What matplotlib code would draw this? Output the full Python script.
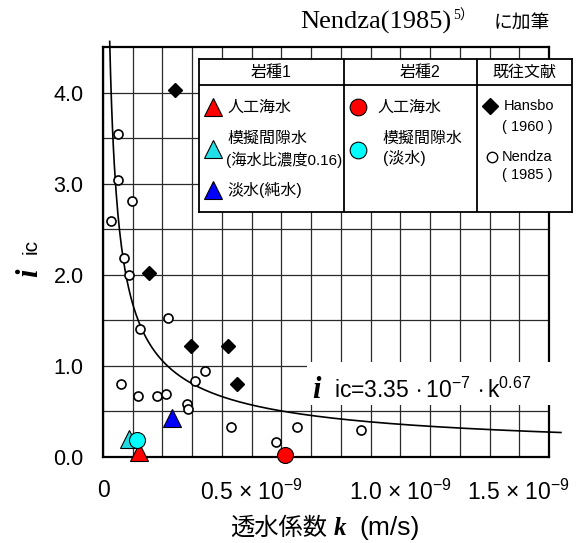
import numpy as np
import matplotlib
import matplotlib.pyplot as plt
from matplotlib.patches import Rectangle
from matplotlib.transforms import ScaledTranslation

matplotlib.use("Agg")

plt.rcParams["font.family"] = ["Liberation Sans", "Noto Sans CJK JP"]
plt.rcParams["mathtext.fontset"] = "custom"
plt.rcParams["mathtext.rm"] = "Liberation Sans"
plt.rcParams["mathtext.it"] = "Liberation Sans:italic"
plt.rcParams["mathtext.bf"] = "Liberation Sans:bold"

W, H = 584, 543

# Nendza (1985) - open circles
nendza_k = [0.027, 0.049, 0.049, 0.098, 0.071, 0.088, 0.217, 0.124, 0.342, 0.310,
            0.059, 0.119, 0.183, 0.212, 0.281, 0.287, 0.429, 0.652, 0.868, 0.581]
nendza_i = [2.59, 3.54, 3.04, 2.81, 2.18, 2.00, 1.53, 1.41, 0.94, 0.83,
            0.80, 0.67, 0.67, 0.69, 0.58, 0.53, 0.33, 0.33, 0.30, 0.16]

# Hansbo (1960) - diamonds
hansbo_k = [0.243, 0.154, 0.297, 0.421, 0.449]
hansbo_i = [4.03, 2.02, 1.22, 1.22, 0.80]

# 岩種1 (triangles): 人工海水, 模擬間隙水, 淡水
rock1_k = [0.121, 0.087, 0.231]
rock1_i = [0.05, 0.20, 0.43]
rock1_colors = ["#ff0000", "#22d8e0", "#0000ff"]

# 岩種2 (circles): 人工海水, 模擬間隙水
rock2_k = [0.612, 0.114]
rock2_i = [0.02, 0.19]
rock2_colors = ["#ff0000", "#00ffff"]

# fitted relation written on the chart
fit_a = 3.35e-7
fit_b = -0.67

x_ticks = [0, 0.5e-9, 1.0e-9, 1.5e-9]
x_ticklabels = ["0", r"0.5 × 10$^{-9}$", r"1.0 × 10$^{-9}$", r"1.5 × 10$^{-9}$"]
y_ticks = [0, 1, 2, 3, 4]
y_ticklabels = ["0.0", "1.0", "2.0", "3.0", "4.0"]


def px(x, y):
    # pixel position -> figure fraction
    return x / W, 1 - y / H


fig = plt.figure(figsize=(W / 100, H / 100), dpi=100)
ax = fig.add_axes([103 / W, 1 - 457 / H, 446 / W, 410 / H])

ax.set_xlim(0, 1.5e-9)
ax.set_ylim(0, 4.5)
ax.set_xticks(x_ticks, x_ticklabels)
ax.set_xticks(np.arange(1, 15) * 0.1e-9, minor=True)
ax.set_yticks(y_ticks, y_ticklabels)
ax.set_yticks(np.arange(0.5, 4.5, 1.0), minor=True)
ax.grid(True, which="both", color="#2a2a2a", linewidth=0.9)
ax.set_axisbelow(True)
ax.tick_params(which="both", length=0)
ax.tick_params(axis="x", pad=16, labelsize=16.5)
ax.tick_params(axis="y", pad=14, labelsize=15.5)
for sp in ax.spines.values():
    sp.set_linewidth(1.6)

# last x label is pulled left so it stays inside the picture
last = ax.xaxis.get_major_ticks()[-1].label1
last.set_transform(last.get_transform() + ScaledTranslation(-0.30, 0, fig.dpi_scale_trans))

# fitted curve
k_fit = np.linspace(0.0225e-9, 1.54e-9, 500)
ax.plot(k_fit, fit_a * k_fit ** fit_b, color="black", linewidth=1.2, clip_on=False, zorder=2)

ax.plot(np.array(nendza_k) * 1e-9, nendza_i, "o", ms=6.5, mfc="white", mec="black",
        mew=1.2, clip_on=False, zorder=3)
ax.plot(np.array(hansbo_k) * 1e-9, hansbo_i, "D", ms=7, mfc="black", mec="black",
        clip_on=False, zorder=3)
for k, i, c in zip(rock1_k, rock1_i, rock1_colors):
    ax.plot(k * 1e-9, i, "^", ms=12.5, mfc=c, mec="black", mew=0.8, clip_on=False, zorder=4)
for k, i, c in zip(rock2_k, rock2_i, rock2_colors):
    ax.plot(k * 1e-9, i, "o", ms=11.5, mfc=c, mec="black", mew=0.8, clip_on=False, zorder=5)

# axis labels
fig.text(*px(37, 277), "i", rotation=90, rotation_mode="anchor", ha="left", va="baseline",
         family="Liberation Serif", style="italic", weight="bold", fontsize=22)
fig.text(*px(37, 254), "ic", rotation=90, rotation_mode="anchor", ha="left", va="baseline",
         fontsize=15)
fig.text(*px(230, 535), "透水係数", ha="left", va="baseline", fontsize=17.5)
fig.text(*px(334, 535), "k", ha="left", va="baseline", family="Liberation Serif",
         style="italic", weight="bold", fontsize=18)
fig.text(*px(359, 535), "(m/s)", ha="left", va="baseline", fontsize=19)

# title
fig.text(*px(300, 29), "Nendza(1985)", ha="left", va="baseline", family="Liberation Serif",
         fontsize=19)
fig.text(*px(453, 20), "5）", ha="left", va="baseline",
         family=["Liberation Serif", "Noto Sans CJK JP"], fontsize=10)
fig.text(*px(494, 29), "に加筆", ha="left", va="baseline", family="Noto Sans CJK JP",
         fontsize=13.5)

# equation box
fig.add_artist(Rectangle(px(307, 405), 253 / W, 43 / H, transform=fig.transFigure,
                         facecolor="white", edgecolor="none"))
fig.text(*px(312, 398), "i", ha="left", va="baseline", family="Liberation Serif",
         style="italic", weight="bold", fontsize=22)
fig.text(*px(334, 398), r"ic=3.35$\,\cdot$10$^{-7}$$\,\cdot$k$^{0.67}$", ha="left",
         va="baseline", fontsize=16.5)

# legend table
lg = fig.add_axes([199 / W, 1 - 212 / H, 373 / W, 153 / H])
lg.set_xlim(199, 572)
lg.set_ylim(212, 59)
lg.set_xticks([])
lg.set_yticks([])
lg.set_facecolor("white")
for sp in lg.spines.values():
    sp.set_linewidth(1.3)
lg.plot([199, 572], [85, 85], color="black", lw=1.3)
lg.plot([344, 344], [59, 212], color="black", lw=1.3)
lg.plot([477, 477], [59, 212], color="black", lw=1.3)

fs = 11.5
lg.text(271, 72, "岩種1", ha="center", va="center", fontsize=fs)
lg.text(420, 72, "岩種2", ha="center", va="center", fontsize=fs)
lg.text(524, 72, "既往文献", ha="center", va="center", fontsize=fs)

lg.plot(213, 107, "^", ms=12.5, mfc="#ff0000", mec="black", mew=0.8)
lg.text(227, 107, "人工海水", va="center", fontsize=fs)
lg.plot(213, 149, "^", ms=12.5, mfc="#22e0e8", mec="black", mew=0.8)
lg.text(227, 138, "模擬間隙水", va="center", fontsize=fs)
lg.text(226, 160, "(海水比濃度0.16)", va="center", fontsize=11)
lg.plot(213, 190, "^", ms=12.5, mfc="#0000ff", mec="black", mew=0.8)
lg.text(227, 190, "淡水(純水)", va="center", fontsize=fs)

lg.plot(358, 107, "o", ms=12, mfc="#ff0000", mec="black", mew=0.8)
lg.text(377, 107, "人工海水", va="center", fontsize=fs)
lg.plot(358, 150, "o", ms=12, mfc="#00ffff", mec="black", mew=0.8)
lg.text(382, 138, "模擬間隙水", va="center", fontsize=fs)
lg.text(383, 158, "(淡水)", va="center", fontsize=fs)

lg.plot(490, 106, "D", ms=8, mfc="black", mec="black")
lg.text(504, 106, "Hansbo", va="center", fontsize=10.5)
lg.text(527, 127, "( 1960 )", ha="center", va="center", fontsize=10.5)
lg.plot(492, 157, "o", ms=7.5, mfc="white", mec="black", mew=1.0)
lg.text(502, 157, "Nendza", va="center", fontsize=10.5)
lg.text(527, 175, "( 1985 )", ha="center", va="center", fontsize=10.5)

fig.savefig("out.png", dpi=100)
